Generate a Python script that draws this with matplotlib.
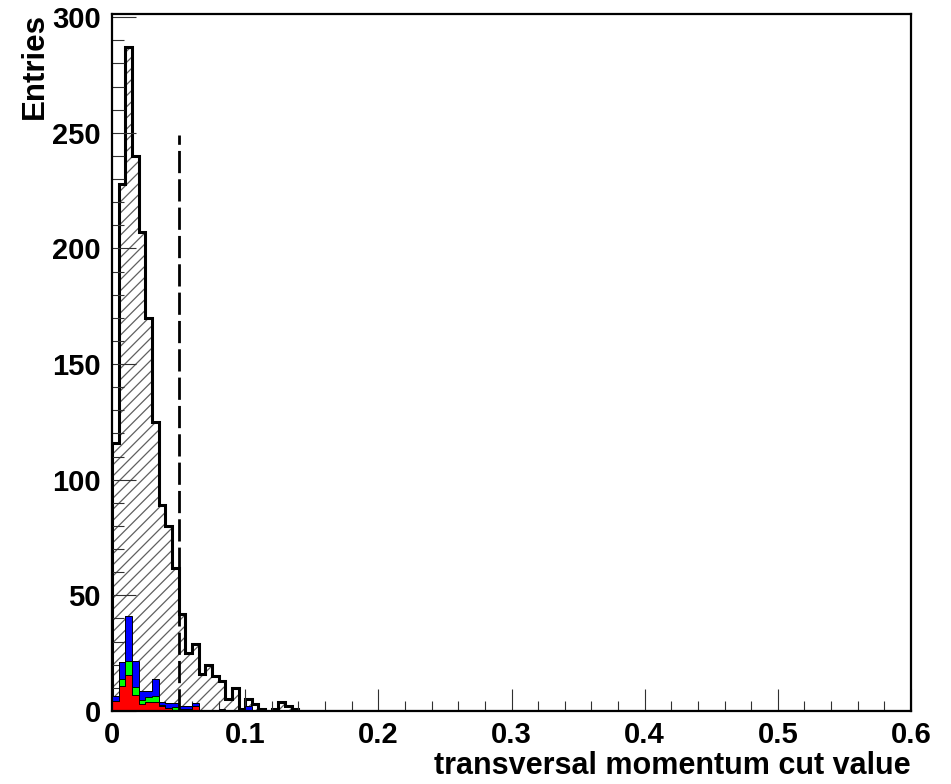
import numpy as np
import matplotlib
matplotlib.use("Agg")
import matplotlib.pyplot as plt

plt.rcParams['font.family'] = ['Liberation Sans', 'DejaVu Sans']
plt.rcParams['font.weight'] = 'bold'
plt.rcParams['hatch.linewidth'] = 0.9

# binning: 0 .. 0.6 in steps of 0.005 (only the first bins are filled)
bin_width = 0.005
x_max = 0.6
cut_value = 0.05
cut_height = 249

# all candidates (hatched histogram)
total_counts = [116, 228, 287, 240, 207, 170, 125, 89, 80, 62,
                42, 25, 29, 16, 20, 15, 13, 5, 10, 1,
                5, 3, 1, 0, 1, 4, 2, 1]

# stacked components: red at the bottom, then green, then blue
red_counts = [4.5, 11, 15.5, 7, 3, 4, 4, 2, 1.5, 0,
              1, 1, 2, 0]
green_counts = [0, 3, 6, 3.5, 1.7, 2, 2.5, 0.7, 0, 1.6,
                0, 0, 0, 0]
blue_counts = [2, 7, 19.5, 11, 3.9, 2.6, 7.2, 1, 2, 2,
               1, 1, 1.5, 0.5, 0, 0, 1, 0, 0, 0,
               2]

n_bins = int(round(x_max / bin_width))
edges = np.arange(n_bins + 1) * bin_width


def pad(vals):
    out = np.zeros(n_bins)
    out[:len(vals)] = vals
    return out


tot = pad(total_counts)
red = pad(red_counts)
green = pad(green_counts)
blue = pad(blue_counts)

fig = plt.figure(figsize=(9.51, 7.84), dpi=100)
ax = fig.add_axes([112 / 951, 73 / 784, 799 / 951, 697 / 784])

# hatched total
ax.stairs(tot, edges, fill=True, facecolor='white', edgecolor='#606060',
          hatch='///', linewidth=0, zorder=1)
ax.stairs(tot, edges, color='black', linewidth=2.2, zorder=2)

# stacked coloured histograms
stack_blue = red + green + blue
stack_green = red + green
for vals, col in [(stack_blue, '#0000ff'), (stack_green, '#00ff00'), (red, '#ff0000')]:
    ax.stairs(vals, edges, fill=True, facecolor=col, edgecolor='none', zorder=3)
    ax.stairs(vals, edges, color='black', linewidth=0.7, zorder=3.1)

# cut line
ax.plot([cut_value, cut_value], [0, cut_height], color='black', linewidth=2,
        dashes=(8, 2.2), zorder=4)

ax.set_xlim(0, x_max)
ax.set_ylim(0, 1.05 * max(total_counts))

ax.set_xticks(np.arange(0, 0.61, 0.1))
ax.set_xticklabels(['0', '0.1', '0.2', '0.3', '0.4', '0.5', '0.6'])
ax.set_xticks(np.arange(0, 0.601, 0.02), minor=True)
ax.set_yticks(np.arange(0, 301, 50))
ax.set_yticks(np.arange(0, 301, 10), minor=True)

ax.tick_params(axis='both', which='both', direction='in', top=False, right=False,
               width=0.8, color='#303030', labelsize=21)
ax.tick_params(axis='y', which='major', length=17, pad=8)
ax.tick_params(axis='y', which='minor', length=8.6)
ax.tick_params(axis='x', which='major', length=16, pad=7)
ax.tick_params(axis='x', which='minor', length=7.5)
for lab in ax.get_xticklabels() + ax.get_yticklabels():
    lab.set_fontweight('bold')
ax.set_axisbelow(False)

for sp in ax.spines.values():
    sp.set_linewidth(1.6)
    sp.set_zorder(5)

fig.text(911 / 951, 1 - 774 / 784, 'transversal momentum cut value',
         ha='right', va='baseline', fontsize=22, fontweight='bold')
fig.text(20 / 951, 1 - 13 / 784, 'Entries', rotation=90,
         ha='left', va='top', fontsize=22.5, fontweight='bold')

fig.savefig('out.png', dpi=100)
